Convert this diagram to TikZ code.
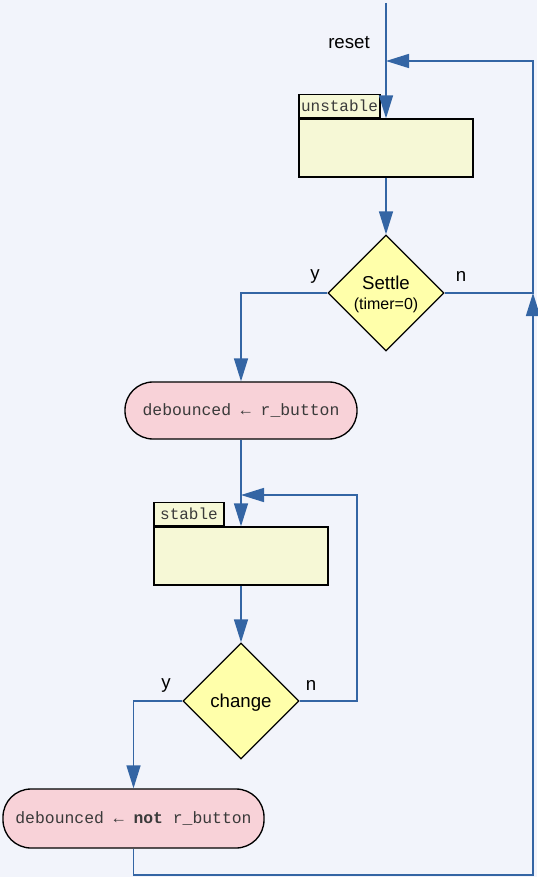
\documentclass[tikz,border=0pt]{standalone}
\usepackage{fontspec}
\setmainfont{Liberation Sans}
\setmonofont{Liberation Mono}
\usetikzlibrary{shapes.geometric,arrows.meta}
\definecolor{bgcol}{HTML}{F2F4FB}
\definecolor{linecol}{HTML}{3465A4}
\definecolor{boxcol}{HTML}{F6F8D6}
\definecolor{diacol}{HTML}{FFFFAA}
\definecolor{pillcol}{HTML}{F8D2D8}
\definecolor{codecol}{HTML}{3A3A3A}
\tikzset{
  flow/.style={draw=linecol, line width=1.125pt},
  arr/.style={flow, -{Triangle[length=17.25pt,width=10.5pt]}},
  state/.style={draw, fill=boxcol, line width=1pt, minimum width=130.5pt,
    minimum height=43.5pt, inner sep=0pt},
  tab/.style={draw, fill=boxcol, line width=1pt, minimum height=17.25pt,
    inner sep=1pt, anchor=south west, text=codecol,
    font=\ttfamily\fontsize{12}{12}\selectfont},
  test/.style={diamond, aspect=1, draw, fill=diacol, line width=1pt,
    minimum width=87pt, minimum height=87pt, inner sep=0pt, align=center,
    text depth=0pt, font=\fontsize{14}{15}\selectfont},
  action/.style={rectangle, rounded corners=21pt, draw, fill=pillcol,
    line width=1pt, inner sep=0pt, text=codecol,
    font=\ttfamily\fontsize{12.3}{12.3}\selectfont},
  lbl/.style={font=\fontsize{14}{14}\selectfont}
}

\begin{document}
\begin{tikzpicture}[x=0.75pt,y=-0.75pt]
	\fill[bgcol] (0,0) rectangle (537,877);
	\useasboundingbox (0,0) rectangle (537,877);

	% unstable state and its test
	\node[state] (unstable) at (386,148) {};
	\node[tab, minimum width=60.75pt] (unstableTab) at (unstable.north west) {unstable};
	\node[test] (settle) at (386,293) {Settle\\{\fontsize{12}{12}\selectfont(timer=0)}};
	\node[action, minimum width=174pt, minimum height=42.75pt] (debSet) at (241,410.5)
		{debounced ← r\_button};

	% stable state and its test
	\node[state] (stable) at (241,556) {};
	\node[tab, minimum width=52.5pt] (stableTab) at (stable.north west) {stable};
	\node[test] (change) at (241,701) {change};
	\node[action, minimum width=195.75pt, minimum height=44.25pt] (debInv) at (133.5,818.5)
		{debounced ← \textbf{not} r\_button};

	% labels
	\node[lbl] (resetLbl) at (349,43) {reset};
	\node[lbl] (settleY) at (315,277) {y};
	\node[lbl] (settleN) at (461,276) {n};
	\node[lbl] (changeY) at (166,685) {y};
	\node[lbl] (changeN) at (311,685) {n};

	\coordinate (start) at (386,3);
	\coordinate (join) at (386,61);
	\coordinate (rightTop) at (533,61);
	\coordinate (rightMid) at (533,293);
	\coordinate (loopIn) at (241,495);
	\coordinate (loopCorner) at (357,495);
	\coordinate (bottomRight) at (533,875);

	\draw[arr] (start) -- (unstable.north);
	\draw[arr] (unstable.south) -- (settle.north);
	\draw[arr] (settle.east) -| (rightTop) -- (join);
	\draw[arr] (settle.west) -| (debSet.north);
	\draw[arr] (debSet.south) -- (stable.north);
	\draw[arr] (stable.south) -- (change.north);
	\draw[arr] (change.east) -| (loopCorner) -- (loopIn);
	\draw[arr] (change.west) -| (debInv.north);
	\draw[arr] (debInv.south) |- (bottomRight) -- (rightMid);
\end{tikzpicture}
\end{document}
